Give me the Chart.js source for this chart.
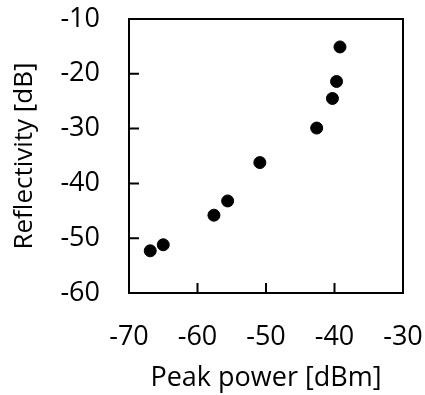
<!DOCTYPE html>
<html>
<head>
<meta charset="utf-8">
<script src="https://cdn.jsdelivr.net/npm/chart.js@4/dist/chart.umd.min.js"></script>
<style>
  html, body { margin: 0; padding: 0; background: #fff; }
  #wrap { width: 425px; height: 395px; }
</style>
</head>
<body>
<div id="wrap"><canvas id="chart"></canvas></div>
<script>
// values
const peakPower = [-66.9, -65.0, -57.6, -55.6, -50.9, -42.6, -40.3, -39.7, -39.2];
const reflectivity = [-52.3, -51.2, -45.8, -43.2, -36.2, -29.9, -24.5, -21.4, -15.1];
const xTicks = [-70, -60, -50, -40, -30];
const yTicks = [-60, -50, -40, -30, -20, -10];

const FONT = "'Open Sans', 'Noto Sans', sans-serif";

// box around the plot area plus inward tick marks
const framePlugin = {
  id: "frame",
  afterDraw(chart) {
    const { ctx, chartArea: a, scales } = chart;
    ctx.save();
    ctx.strokeStyle = "#000";
    ctx.lineWidth = 2;
    ctx.strokeRect(a.left, a.top, a.right - a.left, a.bottom - a.top);
    ctx.beginPath();
    xTicks.slice(1, -1).forEach(v => {
      const px = scales.x.getPixelForValue(v);
      ctx.moveTo(px, a.bottom);
      ctx.lineTo(px, a.bottom - 10);
    });
    yTicks.slice(1, -1).forEach(v => {
      const py = scales.y.getPixelForValue(v);
      ctx.moveTo(a.left, py);
      ctx.lineTo(a.left + 10, py);
    });
    ctx.stroke();
    ctx.restore();
  }
};

new Chart(document.getElementById("chart"), {
  type: "scatter",
  data: {
    datasets: [{
      data: peakPower.map((x, i) => ({ x, y: reflectivity[i] })),
      backgroundColor: "#000",
      borderColor: "#000",
      pointRadius: 6,
      pointHoverRadius: 6
    }]
  },
  options: {
    responsive: true,
    maintainAspectRatio: false,
    animation: false,
    layout: { padding: { top: 19, right: 22, left: 0, bottom: 0 } },
    plugins: { legend: { display: false }, tooltip: { enabled: false } },
    scales: {
      x: {
        type: "linear",
        min: -70, max: -30,
        afterBuildTicks: s => { s.ticks = xTicks.map(v => ({ value: v })); },
        afterFit: s => { s.height = 102; s.paddingLeft = 0; s.paddingRight = 0; },
        border: { display: false },
        grid: { display: false },
        ticks: { color: "#000", font: { family: FONT, size: 27 }, padding: 20 },
        title: { display: true, text: "Peak power [dBm]", color: "#000",
                 font: { family: FONT, size: 27 }, padding: { top: 0, bottom: 0 } }
      },
      y: {
        type: "linear",
        min: -60, max: -10,
        afterBuildTicks: s => { s.ticks = yTicks.map(v => ({ value: v })); },
        afterFit: s => { s.width = 129; s.paddingTop = 0; s.paddingBottom = 0; },
        border: { display: false },
        grid: { display: false },
        ticks: { color: "#000", font: { family: FONT, size: 27 }, padding: 21 },
        title: { display: true, text: "Reflectivity [dB]", color: "#000",
                 font: { family: FONT, size: 26 }, padding: { top: 9, bottom: 0 } }
      }
    }
  },
  plugins: [framePlugin]
});
</script>
</body>
</html>
